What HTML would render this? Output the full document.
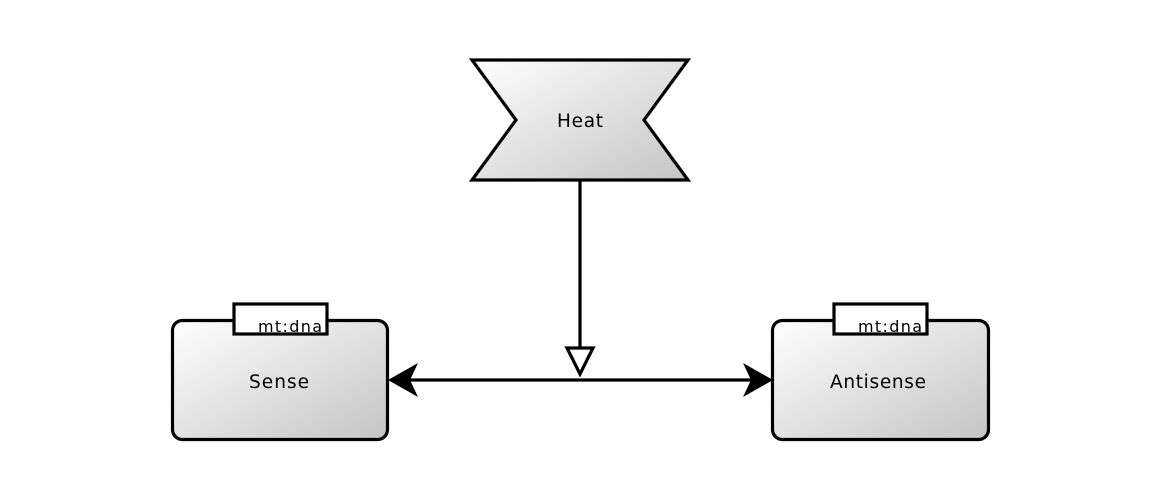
<!DOCTYPE html>
<html><head><meta charset="utf-8"><style>
html,body{margin:0;padding:0;background:#fff;}
svg{display:block;}
text{font-family:"DejaVu Sans","Liberation Sans",sans-serif;fill:#000;}
</style></head><body>
<svg width="1160" height="500" viewBox="0 0 1160 500" xmlns="http://www.w3.org/2000/svg">
<defs>
<linearGradient id="g" x1="0" y1="0" x2="1" y2="1">
<stop offset="0" stop-color="#ffffff"/>
<stop offset="1" stop-color="#c4c4c4"/>
</linearGradient>
</defs>
<!-- Heat -->
<polygon points="472,60 688,60 644,120 688,180 472,180 516,120" fill="url(#g)" stroke="#000" stroke-width="3.2" stroke-linejoin="miter"/>
<text x="580" y="127" font-size="18.5" textLength="46" lengthAdjust="spacing" text-anchor="middle">Heat</text>
<!-- vertical connector -->
<line x1="580" y1="180" x2="580" y2="348" stroke="#000" stroke-width="3.2"/>
<polygon points="567,348 593,348 580,374" fill="#fff" stroke="#000" stroke-width="3.2" stroke-linejoin="miter"/>
<!-- horizontal connector -->
<line x1="400" y1="380" x2="762" y2="380" stroke="#000" stroke-width="3.2"/>
<polygon points="388,380 418,363 410,380 418,397" fill="#000"/>
<polygon points="773,380 743,363 751,380 743,397" fill="#000"/>
<!-- Sense -->
<rect x="172.5" y="320.5" width="215" height="119" rx="10" ry="10" fill="url(#g)" stroke="#000" stroke-width="3.2"/>
<rect x="234" y="304" width="93" height="30" fill="#fff" stroke="#000" stroke-width="3.2"/>
<text x="258" y="332" font-size="16" textLength="64" lengthAdjust="spacing">mt:dna</text>
<text x="249" y="388" font-size="18.5" textLength="60" lengthAdjust="spacing">Sense</text>
<!-- Antisense -->
<rect x="772.5" y="320.5" width="216" height="119" rx="10" ry="10" fill="url(#g)" stroke="#000" stroke-width="3.2"/>
<rect x="834" y="304" width="93" height="30" fill="#fff" stroke="#000" stroke-width="3.2"/>
<text x="858" y="332" font-size="16" textLength="64" lengthAdjust="spacing">mt:dna</text>
<text x="830" y="388" font-size="18.5" textLength="96" lengthAdjust="spacing">Antisense</text>
</svg>
</body></html>
